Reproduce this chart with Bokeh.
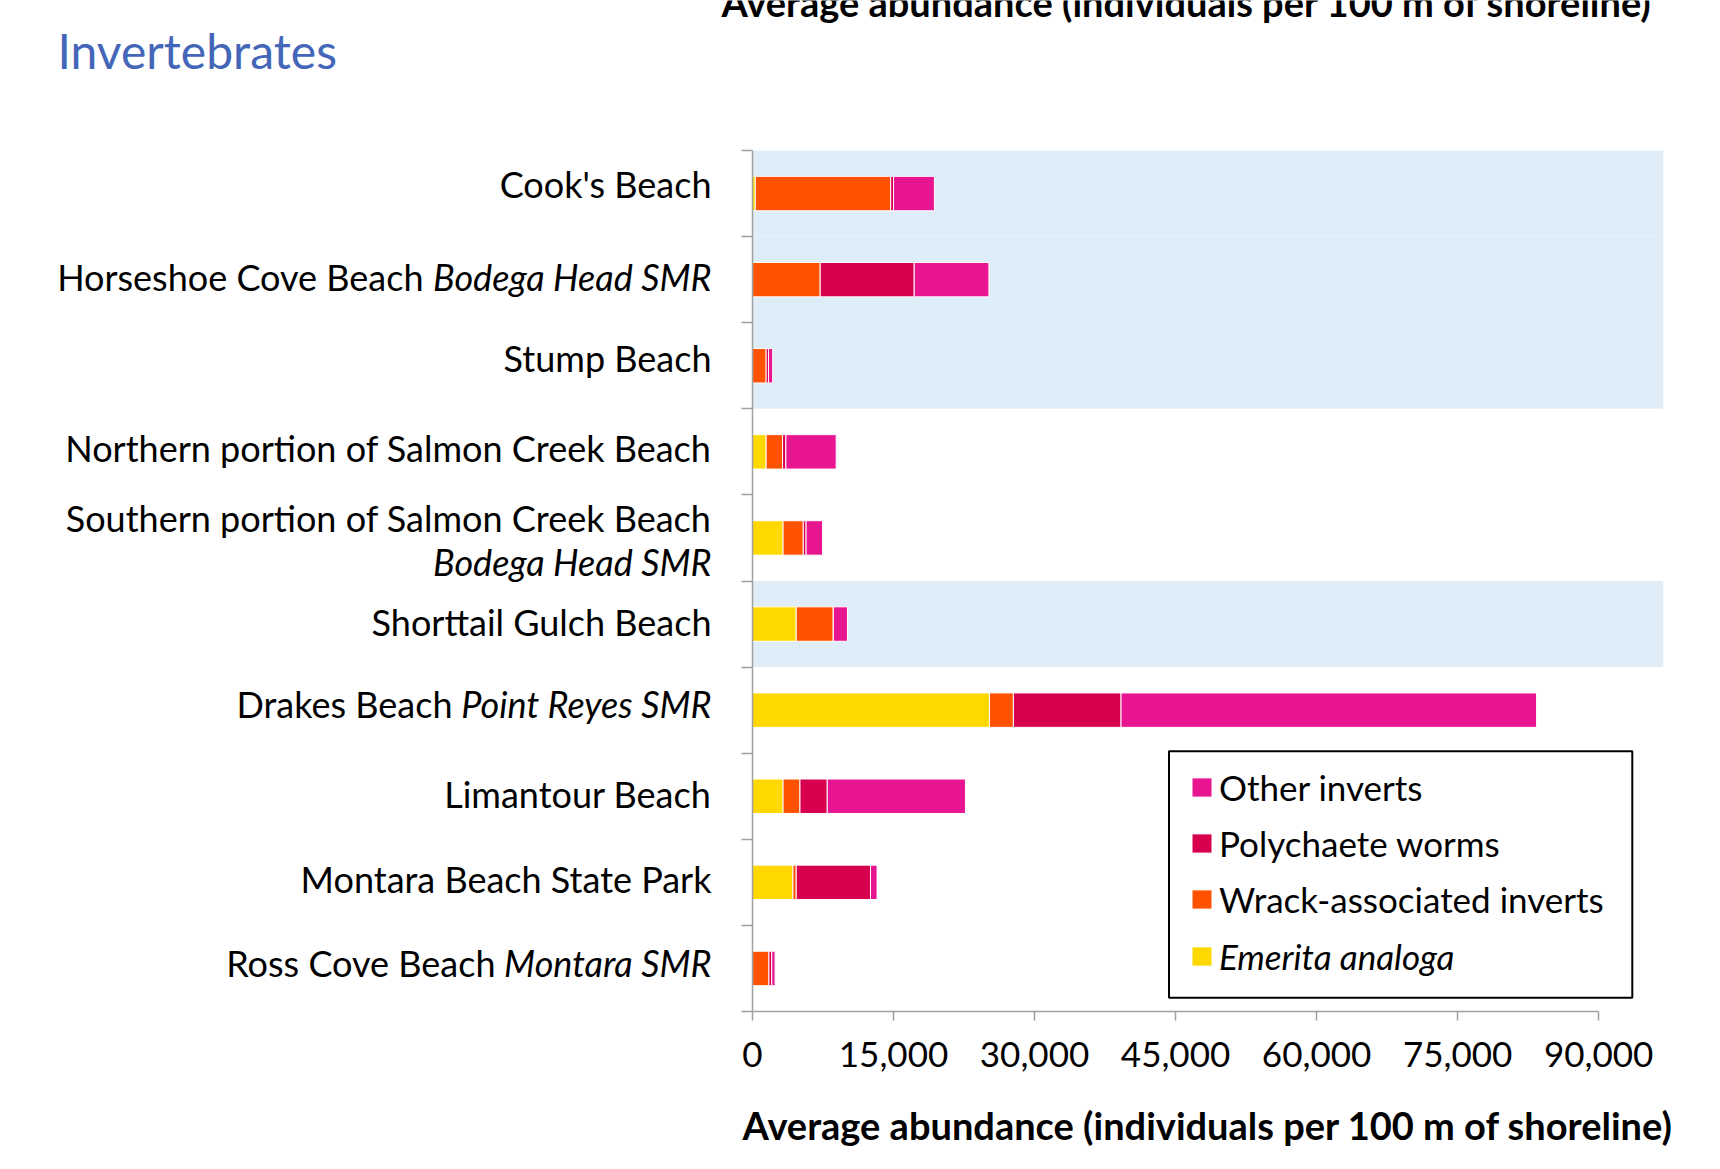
from bokeh.plotting import figure
from bokeh.layouts import column, row
from bokeh.models import (Range1d, FixedTicker, CustomJSTickFormatter, NumeralTickFormatter,
                          Legend, LegendItem, BoxAnnotation, ColumnDataSource)
from bokeh.core.properties import value
from bokeh.embed import file_html
from bokeh.resources import INLINE

# ---------------- data ----------------
sites = ["Cook's Beach", "Horseshoe Cove Beach", "Stump Beach",
         "Northern portion of Salmon Creek Beach", "Southern portion of Salmon Creek Beach",
         "Shorttail Gulch Beach", "Drakes Beach", "Limantour Beach",
         "Montara Beach State Park", "Ross Cove Beach"]
mpas = ["", "Bodega Head SMR", "", "", "Bodega Head SMR", "", "Point Reyes SMR", "", "", "Montara SMR"]
highlight = [True, True, True, False, False, True, False, False, False, False]

emerita    = [300,      0,    0, 1450, 3250, 4650, 25200, 3250, 4300,    0]
wrack      = [14400, 7200, 1450, 1750, 2150, 3950,  2550, 1800,  350, 1750]
polychaete = [300,  10000,  250,  350,  300,    0, 11450, 2900, 7900,  300]
other      = [4350,  7950,  450, 5350, 1750, 1500, 44200, 14700, 700,  350]

series_keys = ["emerita", "wrack", "polychaete", "other"]
series_labels = ["Emerita analoga", "Wrack-associated inverts", "Polychaete worms", "Other inverts"]
x_ticks = [0, 15000, 30000, 45000, 60000, 75000, 90000]
title_text = "Invertebrates"
axis_title = "Average abundance (individuals per 100 m of shoreline)"

# ---------------- style / layout ----------------
FONT = "Lato"
COLORS = ["#FFD800", "#FF5200", "#D6004F", "#E81590"]
BAND = "#DFEDF8"
AXIS_GRAY = "#A0A0A0"
TITLE_BLUE = "#4466B8"
TOTAL_W = 1704
TOP_H = 140           # strip holding the page title
BODY_H = 1020
LEFT_W = 730          # strip holding the site names
FRAME_TOP = 10        # in body strip
FRAME_H = 861
FRAME_W = 911
X_END = 96900
PX_X = FRAME_W / X_END
n = len(sites)
PX_Y = FRAME_H / n
ys = [n - 0.5 - i for i in range(n)]
y_range = Range1d(0, n)

def bare(fig):
    fig.outline_line_color = None
    fig.grid.visible = False
    fig.background_fill_color = "white"
    fig.border_fill_color = "white"
    return fig

# ---------- top strip: page title and cut-off heading ----------
top = bare(figure(width=TOTAL_W, height=TOP_H, x_range=Range1d(0, TOTAL_W), y_range=Range1d(TOP_H, 0),
                  output_backend="svg", toolbar_location=None, x_axis_location=None,
                  y_axis_location=None, min_border=0))
top.text(x=[57], y=[50], text=[title_text], text_font=value(FONT), text_font_size="48px",
         text_color=TITLE_BLUE, text_baseline="middle", text_align="left")
top.text(x=[721], y=[1.5], text=[axis_title], text_font=value(FONT), text_font_size="38px",
         text_font_style="bold", text_color="black", text_baseline="middle", text_align="left")

# ---------- left strip: site names ----------
left = bare(figure(width=LEFT_W, height=BODY_H, x_range=Range1d(0, LEFT_W), y_range=y_range,
                   output_backend="svg", toolbar_location=None, x_axis_location=None,
                   y_axis_location=None, min_border=0, min_border_top=FRAME_TOP,
                   min_border_bottom=BODY_H - FRAME_TOP - FRAME_H))
name_x = [711, 423, 711, 711, 711, 711, 452, 711, 711, 495]
name_dy = [-10, -3, -8, -4, -20, -2, -6, -2, -3, -5]
left.text(x=name_x, y=ys, text=sites, y_offset=name_dy, text_align="right", text_baseline="middle",
          text_font=value(FONT), text_font_size="36px", text_color="black")
mpa_rows = [i for i in range(n) if mpas[i]]
mpa_dy = {4: 24}
left.text(x=[711] * len(mpa_rows), y=[ys[i] for i in mpa_rows], text=[mpas[i] for i in mpa_rows],
          y_offset=[mpa_dy.get(i, name_dy[i]) for i in mpa_rows], text_align="right",
          text_baseline="middle", text_font=value(FONT), text_font_style="italic",
          text_font_size="36px", text_color="black")

# ---------- main chart ----------
main_w = TOTAL_W - LEFT_W
p = bare(figure(width=main_w, height=BODY_H, x_range=Range1d(0, X_END), y_range=y_range,
                output_backend="svg", toolbar_location=None,
                min_border_left=752 - LEFT_W, min_border_right=main_w - (752 - LEFT_W) - FRAME_W,
                min_border_top=FRAME_TOP, min_border_bottom=BODY_H - FRAME_TOP - FRAME_H))

band_y = [y for y, h in zip(ys, highlight) if h]
p.hbar(y=band_y, left=0, right=X_END, height=1, fill_color=BAND, line_color=None)

src = ColumnDataSource(dict(y=ys, emerita=emerita, wrack=wrack, polychaete=polychaete, other=other))
rs = p.hbar_stack(series_keys, y="y", height=0.4, fill_color=COLORS, line_color="white",
                  line_width=1, source=src)

p.xaxis.ticker = FixedTicker(ticks=x_ticks)
p.xaxis.formatter = NumeralTickFormatter(format="0,0")
p.xaxis.bounds = (0, 90000)
p.yaxis.ticker = FixedTicker(ticks=list(range(n + 1)))
p.yaxis.formatter = CustomJSTickFormatter(code="return ''")
p.yaxis.major_label_standoff = 0
p.yaxis.bounds = (0, n)
for ax in (p.xaxis[0], p.yaxis[0]):
    ax.axis_line_color = AXIS_GRAY
    ax.axis_line_width = 1.5
    ax.major_tick_line_color = AXIS_GRAY
    ax.major_tick_line_width = 1.5
    ax.major_tick_in = 0
    ax.minor_tick_line_color = None
p.xaxis.major_tick_out = 9
p.yaxis.major_tick_out = 11
p.xaxis.major_label_text_font = FONT
p.xaxis.major_label_text_font_size = "35px"
p.xaxis.major_label_text_color = "black"
p.xaxis.major_label_standoff = 21
p.xaxis.axis_label = axis_title
p.xaxis.axis_label_text_font = FONT
p.xaxis.axis_label_text_font_size = "38px"
p.xaxis.axis_label_text_font_style = "bold"
p.xaxis.axis_label_text_color = "black"
p.xaxis.axis_label_standoff = 32

# legend box + legends
box = BoxAnnotation(left=416.5 / PX_X, right=879.8 / PX_X, bottom=13.7 / PX_Y, top=260.3 / PX_Y,
                    fill_color="white", fill_alpha=1, line_color="black", line_width=2, line_alpha=1)
p.add_layout(box)
legA = Legend(items=[LegendItem(label=series_labels[3], renderers=[rs[3]]),
                     LegendItem(label=series_labels[2], renderers=[rs[2]]),
                     LegendItem(label=series_labels[1], renderers=[rs[1]])],
              location=(437, 91))
legB = Legend(items=[LegendItem(label=series_labels[0], renderers=[rs[0]])],
              location=(437, 34))
for lg in (legA, legB):
    lg.padding = 0
    lg.margin = 0
    lg.spacing = 14
    lg.border_line_color = None
    lg.background_fill_alpha = 0
    lg.glyph_width = 25
    lg.glyph_height = 24
    lg.label_standoff = 5
    lg.label_text_font = FONT
    lg.label_text_font_size = "35px"
    lg.label_text_color = "black"
    p.add_layout(lg, "center")
legB.label_text_font_style = "italic"

layout = column(top, row(left, p, spacing=0), spacing=0)
open("out.html", "w").write(file_html(layout, INLINE))
